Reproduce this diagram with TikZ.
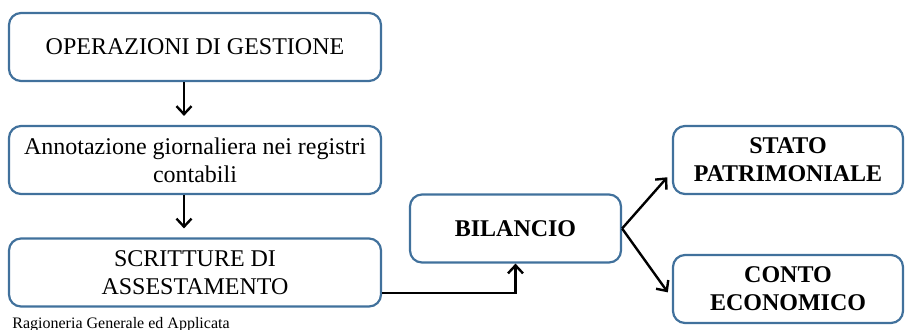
\documentclass[tikz,border=0pt]{standalone}
\usepackage{fontspec}
\setmainfont{Liberation Serif}
\usepackage{tikz}
\usetikzlibrary{arrows.meta}
\definecolor{boxblue}{HTML}{41719C}

\begin{document}
\begin{tikzpicture}
	[
	 x = 0.5pt,
	 y = -0.5pt,
	 every node/.style = {align=center,
	                      font=\fontsize{12}{14}\selectfont,
	                      inner sep = 0pt
	                     },
	 B/.style  = {shape=rectangle,
	              draw=boxblue,
	              line width=1.1pt,
	              rounded corners=6pt,
	              minimum height=34pt},
	 BL/.style = {B, minimum width=186pt},
	 BR/.style = {B, font=\fontsize{12}{14}\selectfont\bfseries},
	 AR/.style = {line width=1.2pt,
	              -{Straight Barb[length=4pt,width=7.5pt]}}
	]
	
	\newcommand{\OG}{OPERAZIONI DI GESTIONE}
	\newcommand{\AGR}{Annotazione giornaliera nei registri\\contabili}
	\newcommand{\SDA}{SCRITTURE DI\\ASSESTAMENTO}
	
	\useasboundingbox (0,0) rectangle (907,329);
	
	\node [BL] (ops) at (195,47)  {\OG};
	\node [BL] (ann) at (195,160) {\AGR};
	\node [BL] (ass) at (195,272.5) {\SDA};
	\node [BR, minimum width=105.5pt] (bil) at (515.5,228.5) {BILANCIO};
	\node [BR, minimum width=115pt] (stato) at (788,160) {STATO\\PATRIMONIALE};
	\node [BR, minimum width=115pt] (conto) at (788,289) {CONTO\\ECONOMICO};
	
	\node [anchor=base west, font=\fontsize{8}{9}\selectfont] (src) at (12,328)
	      {Ragioneria Generale ed Applicata};
	
	\draw [AR, shorten >=4.5pt] ([xshift=-5.5pt]ops.south) -- ([xshift=-5.5pt]ann.north);
	\draw [AR, shorten >=4.5pt] ([xshift=-5.5pt]ann.south) -- ([xshift=-5.5pt]ass.north);
	\draw [AR] ([yshift=-10.25pt]ass.east) -| (bil.south);
	\draw [AR, shorten >=3.5pt] (bil.east) -- ([yshift=-6pt]stato.west);
	\draw [AR, shorten >=3.5pt] (bil.east) -- ([yshift=-4.5pt]conto.west);
\end{tikzpicture}
\end{document}
